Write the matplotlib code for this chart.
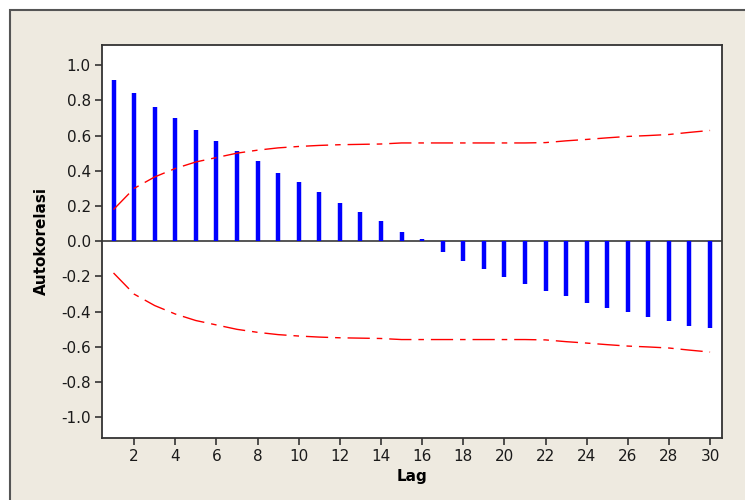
"""ACF plot (Minitab style): autocorrelation by lag with 5% limits."""

import matplotlib
matplotlib.use('Agg')
import matplotlib.pyplot as plt
from matplotlib.patches import Rectangle

# Data
lags = list(range(1, 31))
acf = [0.915, 0.841, 0.761, 0.699, 0.631, 0.568, 0.511, 0.455, 0.386, 0.335,
       0.278, 0.216, 0.165, 0.114, 0.051, 0.010, -0.060, -0.112, -0.157, -0.201,
       -0.244, -0.282, -0.311, -0.348, -0.377, -0.400, -0.430, -0.451, -0.479,
       -0.494]
upper = [0.180, 0.300, 0.365, 0.413, 0.450, 0.475, 0.500, 0.517, 0.530, 0.538,
         0.544, 0.548, 0.550, 0.552, 0.558, 0.558, 0.558, 0.558, 0.558, 0.558,
         0.558, 0.560, 0.570, 0.578, 0.587, 0.595, 0.600, 0.606, 0.618, 0.629]
lower = [-u for u in upper]
yticks = [1.0, 0.8, 0.6, 0.4, 0.2, 0.0, -0.2, -0.4, -0.6, -0.8, -1.0]
xticks = list(range(2, 31, 2))

bg = '#EEEAE0'
dark = '#333333'

fig = plt.figure(figsize=(7.45, 5), dpi=100, facecolor='white')

# Beige panel with frame (behind the axes)
fig.patches.append(Rectangle((10 / 745, -0.02), 1.0, 1 - 10 / 500 + 0.02,
                             transform=fig.transFigure, facecolor=bg,
                             edgecolor='#555555', linewidth=1.5, zorder=-5))

ax = fig.add_axes([102 / 745, 1 - 437.5 / 500, 620 / 745, 392.5 / 500])
ax.set_facecolor('white')

# Bars
ax.vlines(lags, 0, acf, colors='#0000FF', linewidth=3.2, zorder=3)
ax.axhline(0, color='#555555', linewidth=1.4, zorder=2)

# Significance limits
ls = (0, (16, 5, 4, 5))
ax.plot(lags, upper, color='#FF0000', linewidth=1.0, linestyle=ls, zorder=4)
ax.plot(lags, lower, color='#FF0000', linewidth=1.0, linestyle=ls, zorder=4)

ax.set_xlim(0.44, 30.58)
ax.set_ylim(-1.114, 1.114)
ax.set_xticks(xticks)
ax.set_yticks(yticks)
ax.set_yticklabels(['{:.1f}'.format(v) for v in yticks])

for s in ax.spines.values():
    s.set_color(dark)
    s.set_linewidth(1.3)
ax.tick_params(direction='out', length=5, width=1.2, color=dark,
               labelsize=11, labelcolor='#1a1a1a', pad=3)

ax.set_xlabel('Lag', fontsize=11, fontweight='bold', labelpad=4)
ax.set_ylabel('Autokorelasi', fontsize=11, fontweight='bold', labelpad=9)

fig.savefig('out.png', dpi=100, facecolor=fig.get_facecolor())
